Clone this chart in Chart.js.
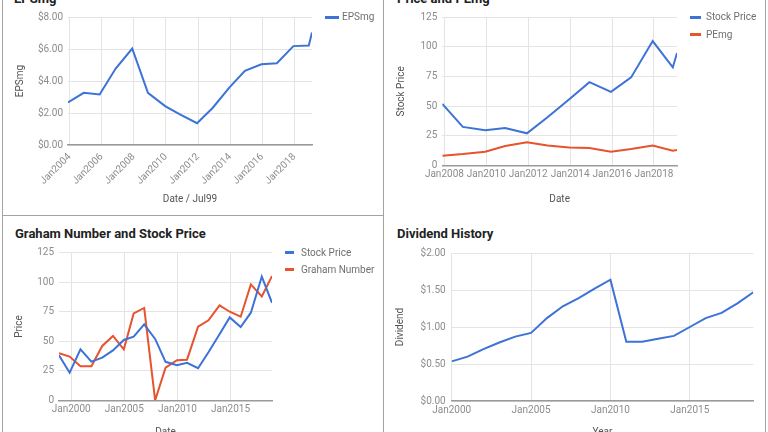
<!DOCTYPE html>
<html>
<head>
<meta charset="utf-8">
<script src="https://cdn.jsdelivr.net/npm/chart.js@4.4.1/dist/chart.umd.min.js"></script>
<style>
  html, body { margin: 0; padding: 0; background: #fff; overflow: hidden; }
  #page { position: relative; width: 768px; height: 432px; overflow: hidden; background: #fff; }
  canvas { position: absolute; }
  .title { position: absolute; font: bold 13px/13px Roboto, Arial, sans-serif; color: #222; white-space: nowrap; }
  .legend { position: absolute; font: 10px/12px Roboto, Arial, sans-serif; color: #6f6f6f; white-space: nowrap; }
  .legend div { position: relative; height: 17.6px; }
  .legend span.sw { position: absolute; top: 7px; height: 3px; }
  .legend span.tx { position: absolute; top: 2.8px; }
  .line { position: absolute; background: #a3a3a3; }
</style>
</head>
<body>
<div id="page">
  <div class="line" style="left:2px;top:0;width:1px;height:432px"></div>
  <div class="line" style="left:383px;top:0;width:1px;height:432px"></div>
  <div class="line" style="left:765px;top:0;width:1px;height:432px"></div>
  <div class="line" style="left:2px;top:215px;width:381px;height:1px"></div>

  <div class="title" style="left:14px;top:-8px">EPSmg</div>
  <div class="title" style="left:397px;top:-8px">Price and PEmg</div>
  <div class="title" style="left:15px;top:227px">Graham Number and Stock Price</div>
  <div class="title" style="left:397px;top:227px">Dividend History</div>

  <canvas id="epsChart" width="380" height="215" style="left:3px;top:0"></canvas>
  <canvas id="peChart" width="380" height="215" style="left:384px;top:0"></canvas>
  <canvas id="grahamChart" width="380" height="226" style="left:3px;top:216px"></canvas>
  <canvas id="divChart" width="380" height="226" style="left:384px;top:216px"></canvas>
</div>
<script>
// ====== Data ======
// dates are decimal years
const EPS_DATES = [2003.9, 2004.88, 2005.87, 2006.87, 2007.9, 2008.88, 2009.95, 2010.9, 2011.94,
                   2012.92, 2013.96, 2014.92, 2015.95, 2016.91, 2017.94, 2018.9, 2019.1];
const EPS_VALUES = [2.66, 3.26, 3.16, 4.78, 6.03, 3.26, 2.43, 1.9, 1.36,
                    2.33, 3.6, 4.64, 5.05, 5.11, 6.18, 6.22, 7.03];
const EPS_TICKS = [2004, 2006, 2008, 2010, 2012, 2014, 2016, 2018];

const PE_DATES = [2007.9, 2008.88, 2009.95, 2010.9, 2011.94, 2012.92, 2013.96,
                  2014.92, 2015.95, 2016.91, 2017.94, 2018.9, 2019.1];
const PE_PRICE = [52, 32.6, 29.8, 31.7, 27.2, 40.7, 55.9, 70.2, 62.1, 74.2, 104.8, 82.6, 94.7];
const PE_VALUES = [8.4, 9.8, 11.8, 16.6, 19.7, 16.9, 15.4, 14.9, 11.8, 14, 16.9, 12.6, 13.2];
const PE_TICKS = [2008, 2010, 2012, 2014, 2016, 2018];

const GRAHAM_DATES = [1998.85, 1999.85, 2000.87, 2001.9, 2002.92, 2003.93, 2004.95, 2005.88, 2006.87,
                      2007.9, 2008.88, 2009.95, 2010.9, 2011.94, 2012.92, 2013.96, 2014.92,
                      2015.95, 2016.91, 2017.94, 2018.9];
const GRAHAM_PRICE = [38.1, 23.4, 43.2, 32.7, 36.1, 42.3, 51.1, 53.9, 64.3, 52, 32.6, 29.8,
                      31.7, 27.2, 40.7, 55.9, 70.2, 62.1, 74.2, 104.8, 82.6];
const GRAHAM_NUMBER = [39.8, 37.0, 28.8, 28.8, 46.0, 54.5, 43.2, 73.6, 78.2, 0, 27.7, 33.9,
                       34.4, 62.4, 67.7, 80.4, 75.0, 70.8, 98.2, 88.0, 105.2];
const GRAHAM_TICKS = [2000, 2005, 2010, 2015];

const DIV_DATES = [2000, 2001, 2002, 2003, 2004, 2005, 2006, 2007, 2008, 2009,
                   2010, 2011, 2012, 2013, 2014, 2015, 2016, 2017, 2018, 2019];
const DIV_VALUES = [0.536, 0.6, 0.7, 0.79, 0.87, 0.92, 1.12, 1.28, 1.39, 1.52,
                    1.64, 0.8, 0.8, 0.84, 0.88, 1.0, 1.12, 1.19, 1.32, 1.47];
const DIV_TICKS = [2000, 2005, 2010, 2015];

// ====== Styles ======
const BLUE = '#3d72d6';
const RED = '#e6532d';
const TICK_COLOR = '#8c8c8c';
const GRID_COLOR = '#e4e4e4';
const BASE_COLOR = '#9a9a9a';
const TITLE_COLOR = '#555';

Chart.defaults.font.family = 'Roboto, Arial, sans-serif';
Chart.defaults.font.size = 10;
Chart.defaults.animation = false;

const money = (v) => '$' + v.toFixed(2);

function lineSet(label, dates, values, color) {
    return {
        label: label,
        data: dates.map((d, i) => ({ x: d, y: values[i] })),
        borderColor: color,
        backgroundColor: color,
        borderWidth: 2,
        pointRadius: 0,
        tension: 0
    };
}

function makeChart(id, datasets, o) {
    return new Chart(document.getElementById(id), {
        type: 'line',
        data: { datasets: datasets },
        options: {
            responsive: false,
            layout: { padding: o.pad },
            plugins: { legend: { display: false }, tooltip: { enabled: false } },
            scales: {
                x: {
                    type: 'linear',
                    min: o.xMin,
                    max: o.xMax,
                    afterBuildTicks: (s) => { s.ticks = o.xTicks.map(v => ({ value: v })); },
                    afterFit: (s) => { s.height = o.xHeight; },
                    grid: { color: GRID_COLOR, drawTicks: false },
                    border: { display: true, color: BASE_COLOR, width: 1.5 },
                    ticks: {
                        color: TICK_COLOR, padding: o.xPad, autoSkip: false,
                        minRotation: o.rot, maxRotation: o.rot,
                        callback: (v) => 'Jan' + v
                    },
                    title: {
                        display: true, text: o.xTitle, color: TITLE_COLOR,
                        padding: { top: o.xTitlePad, bottom: o.xTitlePad }
                    }
                },
                y: {
                    min: o.yMin,
                    max: o.yMax,
                    afterFit: (s) => { s.width = o.yWidth; },
                    grid: { color: GRID_COLOR, drawTicks: false },
                    border: { display: false },
                    ticks: {
                        stepSize: o.yStep, color: TICK_COLOR, padding: o.yPad,
                        callback: o.yFmt
                    },
                    title: {
                        display: true, text: o.yTitle, color: TITLE_COLOR,
                        padding: { top: o.yTitlePad, bottom: o.yTitlePad }
                    }
                }
            }
        }
    });
}

function addLegend(chart, left, top, swLeft, swWidth, txLeft) {
    const box = document.createElement('div');
    box.className = 'legend';
    box.style.left = left + 'px';
    box.style.top = top + 'px';
    chart.data.datasets.forEach(ds => {
        const row = document.createElement('div');
        const sw = document.createElement('span');
        sw.className = 'sw';
        sw.style.left = swLeft + 'px';
        sw.style.width = swWidth + 'px';
        sw.style.background = ds.borderColor;
        const tx = document.createElement('span');
        tx.className = 'tx';
        tx.style.left = txLeft + 'px';
        tx.textContent = ds.label;
        row.appendChild(sw);
        row.appendChild(tx);
        box.appendChild(row);
    });
    document.getElementById('page').appendChild(box);
}

// ===== EPSmg =====
const epsChart = makeChart('epsChart', [lineSet('EPSmg', EPS_DATES, EPS_VALUES, BLUE)], {
    pad: { top: 17, right: 71, left: 0, bottom: 0 },
    xMin: 2003.9, xMax: 2019.1, xTicks: EPS_TICKS, xHeight: 70, xPad: 6, rot: 45,
    xTitle: 'Date / Jul99', xTitlePad: 10,
    yMin: 0, yMax: 8, yStep: 2, yFmt: money, yWidth: 65, yPad: 5,
    yTitle: 'EPSmg', yTitlePad: 11
});
addLegend(epsChart, 0, 8.5, 325, 14, 342);

// ===== Price and PEmg =====
const peChart = makeChart('peChart', [
    lineSet('Stock Price', PE_DATES, PE_PRICE, BLUE),
    lineSet('PEmg', PE_DATES, PE_VALUES, RED)
], {
    pad: { top: 17, right: 87, left: 0, bottom: 0 },
    xMin: 2007.9, xMax: 2019.1, xTicks: PE_TICKS, xHeight: 49.3, xPad: 3, rot: 0,
    xTitle: 'Date', xTitlePad: 9.5,
    yMin: 0, yMax: 125, yStep: 25, yFmt: (v) => v, yWidth: 58.3, yPad: 5,
    yTitle: 'Stock Price', yTitlePad: 11
});
addLegend(peChart, 0, 8.5, 690, 11, 706);

// ===== Graham Number and Stock Price =====
const grahamChart = makeChart('grahamChart', [
    lineSet('Stock Price', GRAHAM_DATES, GRAHAM_PRICE, BLUE),
    lineSet('Graham Number', GRAHAM_DATES, GRAHAM_NUMBER, RED)
], {
    pad: { top: 36.7, right: 111, left: 0, bottom: 0 },
    xMin: 1998.85, xMax: 2018.9, xTicks: GRAHAM_TICKS, xHeight: 41.7, xPad: 3, rot: 0,
    xTitle: 'Date', xTitlePad: 3.5,
    yMin: 0, yMax: 125, yStep: 25, yFmt: (v) => v, yWidth: 56, yPad: 5,
    yTitle: 'Price', yTitlePad: 10
});
addLegend(grahamChart, 0, 243.9, 285, 9, 301);

// ===== Dividend History =====
makeChart('divChart', [lineSet('Dividend', DIV_DATES, DIV_VALUES, BLUE)], {
    pad: { top: 37, right: 10.7, left: 0, bottom: 0 },
    xMin: 2000, xMax: 2019, xTicks: DIV_TICKS, xHeight: 41, xPad: 3.3, rot: 0,
    xTitle: 'Year', xTitlePad: 3.5,
    yMin: 0, yMax: 2, yStep: 0.5, yFmt: money, yWidth: 67.7, yPad: 6,
    yTitle: 'Dividend', yTitlePad: 10.7
});
</script>
</body>
</html>
